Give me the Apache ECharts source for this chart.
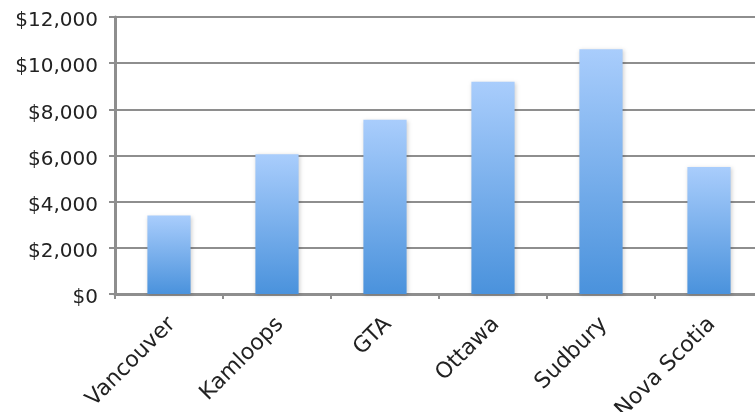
<!DOCTYPE html>
<html>
<head>
<meta charset="utf-8">
<script src="https://cdn.jsdelivr.net/npm/echarts@6/dist/echarts.min.js"></script>
<style>
  html, body { margin: 0; padding: 0; background: #ffffff; }
  #chart { width: 755px; height: 412px; }
</style>
</head>
<body>
<div id="chart"></div>
<script>
// Cost by location
const categories = ['Vancouver', 'Kamloops', 'GTA', 'Ottawa', 'Sudbury', 'Nova Scotia'];
const costs = [3400, 6050, 7550, 9200, 10600, 5500];
const yTicks = { min: 0, max: 12000, interval: 2000 };

const chart = echarts.init(document.getElementById('chart'), null, { renderer: 'canvas' });

const fmt = v => '$' + v.toLocaleString('en-US');
const font = 'DejaVu Sans, Verdana, sans-serif';
const axisGray = '#8e8e8e';
const textColor = '#222222';

chart.setOption({
  animation: false,
  backgroundColor: '#ffffff',
  grid: [
    // plot area
    { left: 115, top: 17, width: 648, bottom: 118, containLabel: false, outerBoundsMode: 'none' },
    // same area nudged right and down, carries the axis text
    { left: 118, top: 21, width: 648, bottom: 114, containLabel: false, outerBoundsMode: 'none' }
  ],
  xAxis: [{
    type: 'category',
    gridIndex: 0,
    data: categories,
    axisLine: { lineStyle: { color: axisGray, width: 3 } },
    axisTick: { show: true, length: 5, lineStyle: { color: axisGray, width: 2 } },
    axisLabel: { show: false }
  }, {
    type: 'category',
    gridIndex: 1,
    data: categories,
    axisLine: { show: false },
    axisTick: { show: false },
    splitLine: { show: false },
    axisLabel: {
      rotate: 45,
      margin: 23,
      fontFamily: font,
      fontSize: 22,
      color: textColor
    }
  }],
  yAxis: [{
    type: 'value',
    gridIndex: 0,
    min: yTicks.min,
    max: yTicks.max,
    interval: yTicks.interval,
    axisLine: { show: true, lineStyle: { color: axisGray, width: 3 } },
    axisTick: { show: true, length: 6, lineStyle: { color: axisGray, width: 2 } },
    splitLine: { lineStyle: { color: axisGray, width: 2 } },
    axisLabel: { show: false }
  }, {
    type: 'value',
    gridIndex: 1,
    min: yTicks.min,
    max: yTicks.max,
    interval: yTicks.interval,
    axisLine: { show: false },
    axisTick: { show: false },
    splitLine: { show: false },
    axisLabel: {
      formatter: fmt,
      margin: 20,
      fontFamily: font,
      fontSize: 20,
      color: textColor
    }
  }],
  series: [{
    type: 'bar',
    xAxisIndex: 0,
    yAxisIndex: 0,
    data: costs,
    barWidth: '40%',
    itemStyle: {
      color: new echarts.graphic.LinearGradient(0, 0, 0, 1, [
        { offset: 0, color: '#a9cdfc' },
        { offset: 1, color: '#4a92dc' }
      ]),
      shadowColor: 'rgba(0,0,0,0.18)',
      shadowBlur: 4,
      shadowOffsetX: 1,
      shadowOffsetY: 1
    }
  }]
});
</script>
</body>
</html>
